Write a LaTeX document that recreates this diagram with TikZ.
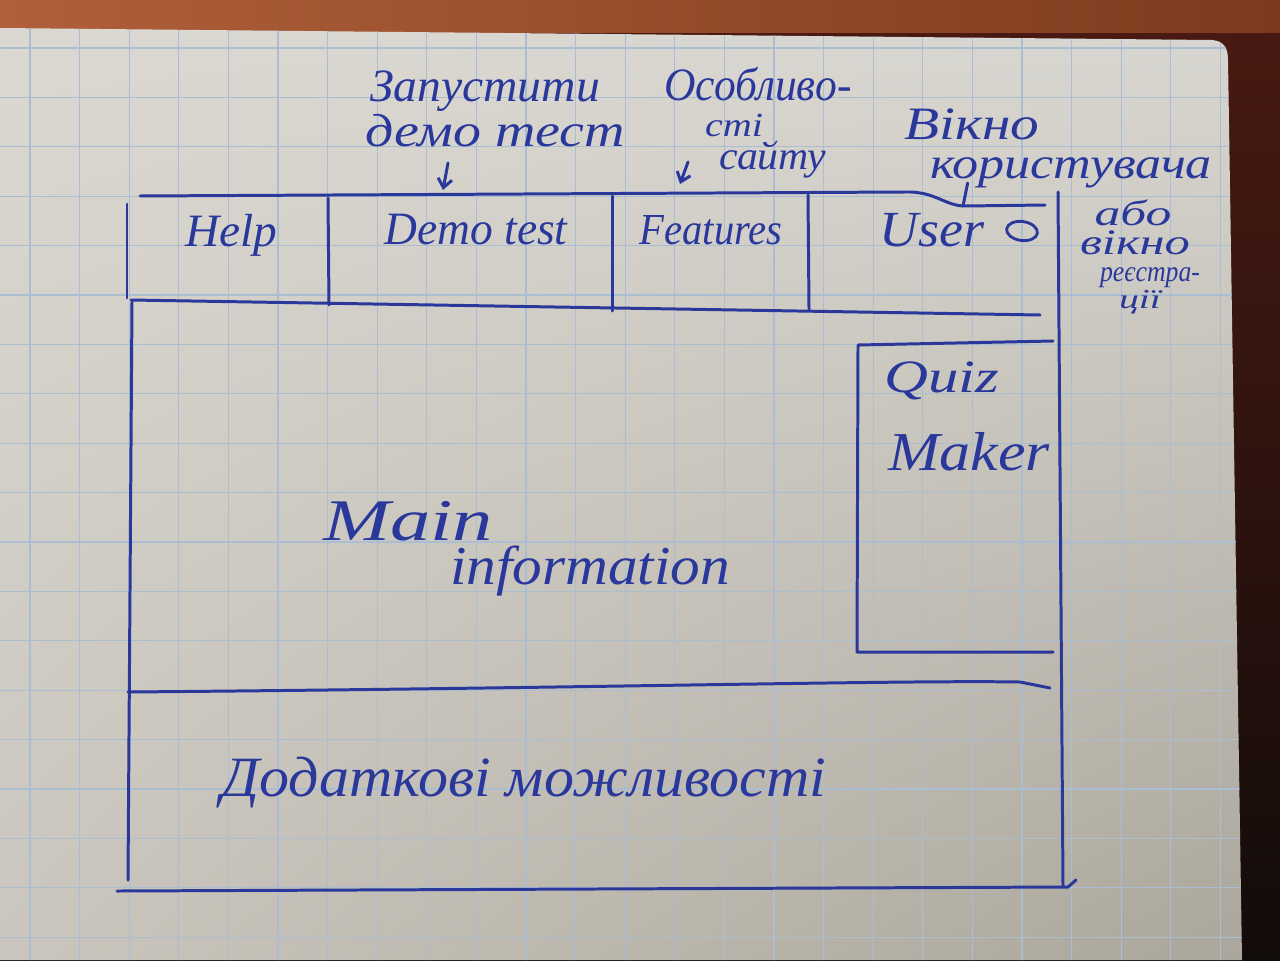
\documentclass[tikz,border=0pt]{standalone}
\usepackage{fontspec}
\setmainfont{Liberation Serif}
\usepackage{graphicx}
\usetikzlibrary{arrows.meta,shapes.geometric,shadings}

\definecolor{ink}{HTML}{2A389C}
\definecolor{gridblue}{HTML}{AABDD2}
\definecolor{woodlight}{HTML}{B0603A}
\definecolor{wooddark}{HTML}{7E3A1E}
\definecolor{desktop}{HTML}{4A1A12}
\definecolor{deskbottom}{HTML}{120C0A}
\definecolor{paperUL}{HTML}{DAD8D1}
\definecolor{paperUR}{HTML}{D8D6D0}
\definecolor{paperLL}{HTML}{CAC6BD}
\definecolor{paperLR}{HTML}{ABA69B}

% handwritten word: font size, stretched width, text
\newcommand\inkword[3]{\resizebox{#2}{1.2\height}{\fontsize{#1}{#1}\selectfont\itshape #3}}

\begin{document}
\begin{tikzpicture}[x=0.02cm,y=-0.02cm,
  pen/.style={ink,line width=1.7pt,line cap=round,line join=round},
  hand/.style={ink,inner sep=0pt,anchor=base},
  pointer/.style={pen,-{Straight Barb[length=5pt,width=8pt]}}]
\useasboundingbox (0,0) rectangle (1280,960);

% desk and table top
\shade[top color=desktop,bottom color=deskbottom] (0,0) rectangle (1280,960);
\shade[left color=woodlight,right color=wooddark] (0,0) rectangle (1280,32);

% notebook page
\shade[upper left=paperUL,upper right=paperUR,lower left=paperLL,lower right=paperLR]
  (0,28) -- (1212,40) .. controls (1224,41) and (1228,48) .. (1228,60)
  -- (1242,960) -- (0,960) -- cycle;

% squared ruling
\begin{scope}
  \clip (0,28) -- (1212,40) .. controls (1224,41) and (1228,48) .. (1228,60)
    -- (1242,960) -- (0,960) -- cycle;
  \foreach \i in {0,...,25}
    \draw[gridblue,line width=0.6pt] ({30+49.6*\i},20) -- ++(0,950);
  \foreach \j in {0,...,19}
    \draw[gridblue,line width=0.6pt] (0,{48+49.4*\j}) -- ++(1260,0);
\end{scope}

% outer frame
\coordinate (hdrTL) at (140,196);
\coordinate (hdrBend) at (905,192);
\coordinate (hdrTR) at (1045,205);
\draw[pen] (hdrTL) -- (hdrBend) .. controls (935,191) and (945,206) .. (965,206) -- (hdrTR);
\draw[pen] (127,204) -- (127,298);
\draw[pen] (131,300) -- (1040,315);
\draw[pen] (328,198) -- (329,305);
\draw[pen] (612,196) -- (612,311);
\draw[pen] (808,195) -- (809,309);
\draw[pen] (1058,192) -- (1063,886);
\draw[pen] (132,302) -- (128,880);
\draw[pen] (117,891) -- (1068,887) -- (1076,880);
\draw[pen] (128,692) .. controls (600,688) and (900,680) .. (1020,682) -- (1050,688);

% side panel
\draw[pen] (1053,341) -- (858,345) -- (857,652) -- (1053,652);

% menu bar
\node[hand] (help)     at (231,246) {\inkword{22pt}{1.84cm}{Help}};
\node[hand] (demo)     at (476,244) {\inkword{22pt}{3.66cm}{Demo test}};
\node[hand] (features) at (711,244) {\inkword{21pt}{2.86cm}{Features}};
\node[hand] (user)     at (932,246) {\inkword{24pt}{2.1cm}{User}};
\node[draw=ink,line width=1.6pt,ellipse,minimum width=0.62cm,minimum height=0.38cm,
      inner sep=0pt,rotate=-8] (usericon) at (1022,231) {};

% notes above the bar
\node[hand] (runA)  at (485,101) {\inkword{22pt}{4.6cm}{Запустити}};
\node[hand] (runB)  at (495,146) {\inkword{22pt}{5.2cm}{демо тест}};
\node[hand] (featA) at (758,100) {\inkword{22pt}{3.74cm}{Особливо-}};
\node[hand] (featB) at (734,136) {\inkword{16pt}{1.16cm}{сті}};
\node[hand] (featC) at (773,169) {\inkword{19pt}{2.14cm}{сайту}};
\node[hand] (winA)  at (972,139) {\inkword{22pt}{2.7cm}{Вікно}};
\node[hand] (winB)  at (1071,178) {\inkword{21pt}{5.64cm}{користувача}};
\node[hand] (winC)  at (1133,225) {\inkword{17pt}{1.54cm}{або}};
\node[hand] (winD)  at (1135,254) {\inkword{17pt}{2.2cm}{вікно}};
\node[hand] (winE)  at (1150,281) {\inkword{14pt}{2.0cm}{реєстра-}};
\node[hand] (winF)  at (1140,308) {\inkword{13pt}{0.84cm}{ції}};

\coordinate (runTail) at (448,163);
\coordinate (runTip) at (443,190);
\draw[pointer] (runTail) -- (runTip);
\coordinate (featTail) at (688,162);
\coordinate (featTip) at (680,184);
\draw[pointer] (featTail) -- (featTip);
\coordinate (winFoot) at (963,206);
\draw[pen] (winB.base west) ++(38,5) -- (winFoot);

% content areas
\node[hand] (quizA) at (942,392) {\inkword{22pt}{2.3cm}{Quiz}};
\node[hand] (quizB) at (969,470) {\inkword{26pt}{3.24cm}{Maker}};
\node[hand] (mainA) at (408,540) {\inkword{28pt}{3.4cm}{Main}};
\node[hand] (mainB) at (590,584) {\inkword{26pt}{5.6cm}{information}};
\node[hand] (extra) at (524,796) {\inkword{27pt}{12.1cm}{Додаткові можливості}};
\end{tikzpicture}
\end{document}
